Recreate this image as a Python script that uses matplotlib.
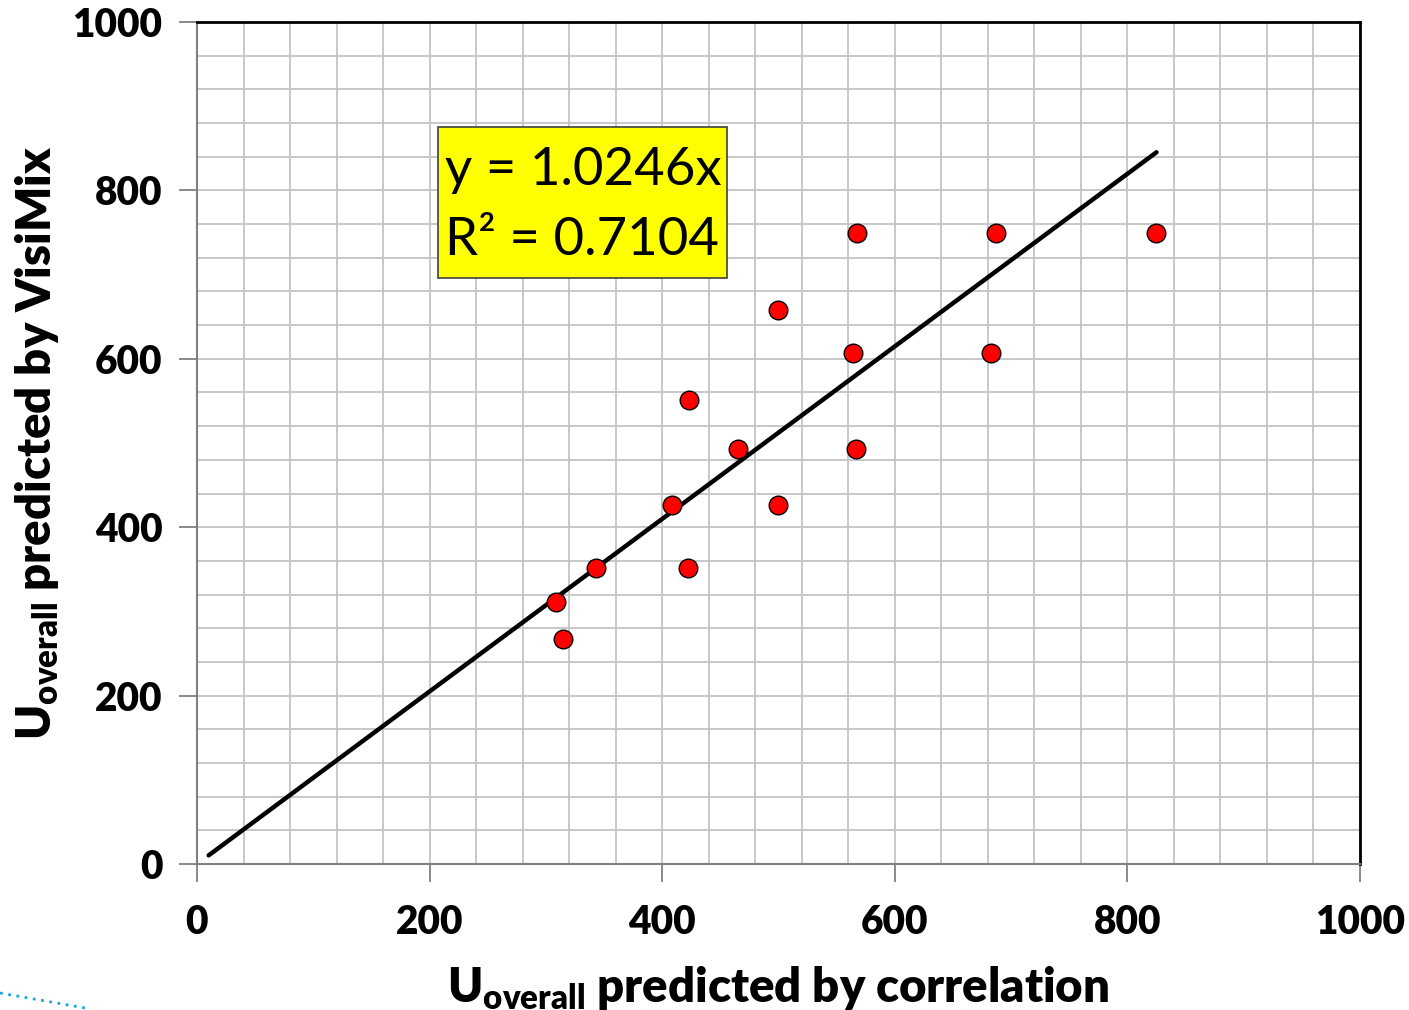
import matplotlib
matplotlib.use("Agg")
import matplotlib.pyplot as plt
from matplotlib.lines import Line2D
from matplotlib.patches import Rectangle
from matplotlib.ticker import MultipleLocator
import numpy as np

# Data
x_corr = [309, 315, 343, 408, 422, 423, 465, 500, 500, 564, 567, 567.5, 683, 687, 825]
y_visimix = [311, 267, 351, 426, 351, 551, 493, 426, 658, 607, 493, 749, 607, 750, 750]
slope = 1.0246
r2 = 0.7104
fit_x = [10, 825]
x_ticks = [0, 200, 400, 600, 800, 1000]
y_ticks = [0, 200, 400, 600, 800, 1000]

plt.rcParams['font.family'] = ['Lato', 'DejaVu Sans']
plt.rcParams['mathtext.fontset'] = 'custom'
plt.rcParams['mathtext.rm'] = 'Lato:heavy'
plt.rcParams['mathtext.it'] = 'Lato:heavy'
plt.rcParams['mathtext.bf'] = 'Lato:heavy'

fig = plt.figure(figsize=(14.09, 10.10), dpi=100)
ax = fig.add_axes([197/1409, 146/1010, (1360-197)/1409, (864-22)/1010])

ax.set_xlim(0, 1000)
ax.set_ylim(0, 1000)
ax.xaxis.set_minor_locator(MultipleLocator(40))
ax.yaxis.set_minor_locator(MultipleLocator(40))
ax.set_xticks(x_ticks)
ax.set_yticks(y_ticks)
ax.set_xticklabels([str(t) for t in x_ticks], fontsize=28, fontweight='heavy')
ax.set_yticklabels([str(t) for t in y_ticks], fontsize=28, fontweight='heavy')
ax.grid(which='both', color='#c4c4c4', linewidth=1.3, zorder=0)
ax.set_axisbelow(True)
ax.tick_params(which='minor', length=0)
ax.tick_params(which='major', direction='out', length=13, width=1.3, color='#808080')
ax.tick_params(axis='x', pad=16)
ax.tick_params(axis='y', pad=12)
ax.spines['left'].set_color('#808080')
ax.spines['bottom'].set_color('#808080')
ax.spines['left'].set_linewidth(1.5)
ax.spines['bottom'].set_linewidth(1.5)
ax.spines['top'].set_color('black')
ax.spines['right'].set_color('black')
ax.spines['top'].set_linewidth(2)
ax.spines['right'].set_linewidth(2)

fx = np.array(fit_x, dtype=float)
ax.plot(fx, slope * fx, color='black', linewidth=3.2, solid_capstyle='round', zorder=3)
ax.scatter(x_corr, y_visimix, s=180, c='#ff0000', edgecolors='black', linewidths=1.0, zorder=4)

# equation box
ax.add_patch(Rectangle((207, 696), 249, 179, facecolor='#ffff00', edgecolor='#404040',
                       linewidth=1.2, zorder=5))
ax.text(213, 824, f"y = {slope:.4f}x", fontsize=38, color='black', va='center', ha='left', zorder=6)
ax.text(213, 741, f"R² = {r2:.4f}", fontsize=38, color='black', va='center', ha='left', zorder=6)

ax.set_xlabel(r"U$_{\rm overall}$ predicted by correlation", fontsize=34, fontweight='heavy', labelpad=16)
ax.set_ylabel(r"U$_{\rm overall}$ predicted by VisiMix", fontsize=34, fontweight='heavy', labelpad=8)

# dotted decoration at bottom-left
fig.add_artist(Line2D([0/1409, 85/1409], [1 - 993/1010, 1 - 1008/1010], transform=fig.transFigure,
                      color='#1aa7e0', linestyle=(0, (1, 2)), linewidth=2))

fig.savefig("out.png", dpi=100)
